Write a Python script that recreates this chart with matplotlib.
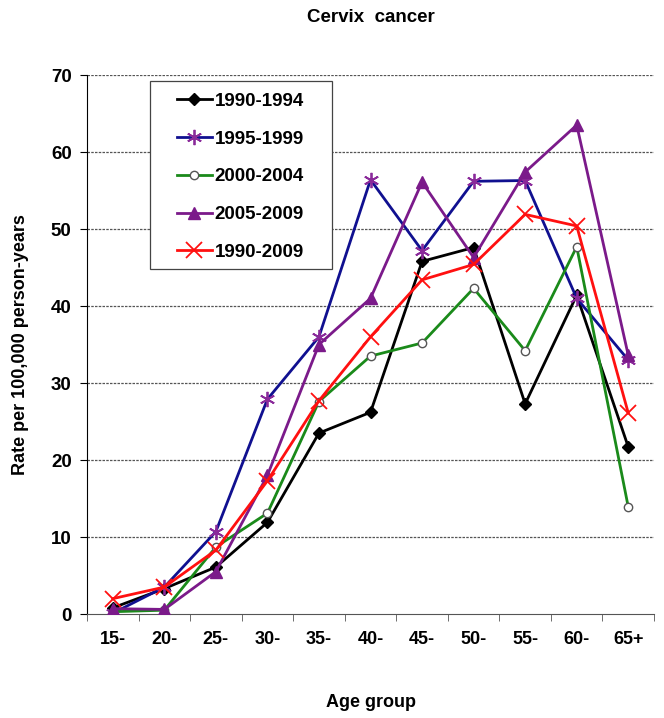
import numpy as np
import matplotlib as mpl
mpl.use("Agg")
import matplotlib.pyplot as plt
from matplotlib.patches import Rectangle

ages = ["15-", "20-", "25-", "30-", "35-", "40-", "45-", "50-", "55-", "60-", "65+"]
p1990_1994 = [0.8, 3.3, 6.1, 11.9, 23.5, 26.2, 45.8, 47.6, 27.3, 41.4, 21.7]
p1995_1999 = [0.1, 3.5, 10.7, 27.9, 36.0, 56.4, 47.2, 56.2, 56.3, 41.0, 33.0]
p2000_2004 = [0.3, 0.5, 8.7, 13.1, 27.6, 33.5, 35.2, 42.3, 34.2, 47.7, 13.9]
p2005_2009 = [0.7, 0.6, 5.5, 18.0, 35.0, 41.0, 56.1, 46.3, 57.4, 63.5, 33.6]
p1990_2009 = [2.0, 3.5, 8.3, 17.3, 27.7, 36.0, 43.4, 45.4, 51.9, 50.4, 26.1]

plt.rcParams['font.family'] = ['Liberation Sans', 'DejaVu Sans']
plt.rcParams['font.weight'] = 'bold'

fig = plt.figure(figsize=(6.64, 7.18), dpi=100)
ax = fig.add_axes([0.131, 0.1448, 0.854, 0.7507])
x = np.arange(len(ages))

ax.plot(x, p1990_1994, color='black', lw=2, marker='D', ms=6, mfc='black', mec='black', label='1990-1994', zorder=3)
ax.plot(x, p1995_1999, color='#101090', lw=2, marker=(6, 2, 0), ms=11, mec='#8a2a9a', mew=1.3, label='1995-1999', zorder=3)
ax.plot(x, p2000_2004, color='#1a8a1a', lw=2, marker='o', ms=6, mfc='white', mec='#555555', mew=1, label='2000-2004', zorder=3)
ax.plot(x, p2005_2009, color='#7b1a8a', lw=2, marker='^', ms=8, mfc='#7b1a8a', mec='#7b1a8a', label='2005-2009', zorder=3)
ax.plot(x, p1990_2009, color='#ff1010', lw=2, marker='x', ms=12, mew=1.3, label='1990-2009', zorder=4)

ax.set_xlim(-0.5, 10.5)
ax.set_ylim(0, 70)
ax.set_yticks(np.arange(0, 71, 10))
ax.set_xticks(x)
ax.set_xticklabels(ages)
ax.set_xticks(np.arange(-0.5, 11, 1), minor=True)
ax.tick_params(axis='x', which='major', length=0, pad=12, labelsize=13)
ax.tick_params(axis='x', which='minor', length=5, direction='out', color='#555555')
ax.tick_params(axis='y', length=5, direction='out', labelsize=13.5, pad=6)
for v in range(10, 71, 10):
    ax.axhline(v, color='#555555', lw=0.9, ls=(0, (2, 1)), zorder=1)

ax.spines['top'].set_visible(False)
ax.spines['right'].set_visible(False)
ax.spines['bottom'].set_color('#555555')

ax.set_title('Cervix  cancer', fontsize=13.5, fontweight='bold', pad=38)
ax.set_ylabel('Rate per 100,000 person-years', fontsize=13, fontweight='bold', labelpad=16)
ax.set_xlabel('Age group', fontsize=13, fontweight='bold', labelpad=33)

# legend box drawn separately so padding matches
ax.add_patch(Rectangle((0.111, 0.640), 0.321, 0.349, transform=ax.transAxes, fill=True,
                       facecolor='white', edgecolor='#444444', lw=0.9, zorder=5))
leg = ax.legend(loc='upper left', bbox_to_anchor=(0.159, 0.967), fontsize=13.5, handlelength=1.85,
                labelspacing=1.1, frameon=False, borderpad=0, borderaxespad=0, handletextpad=0.15)
leg.set_zorder(6)

fig.savefig('out.png', dpi=100)
